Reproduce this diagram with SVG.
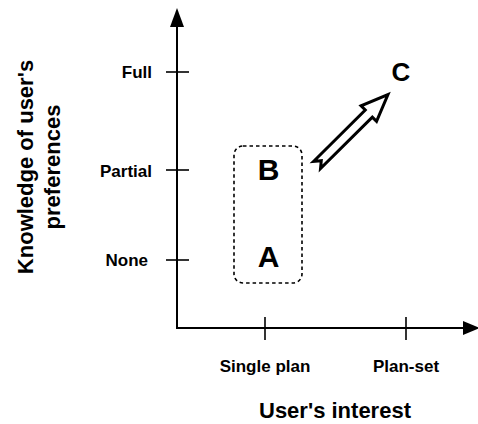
<svg xmlns="http://www.w3.org/2000/svg" width="478" height="424" viewBox="0 0 478 424">
<style>
.lbl{font-family:"Liberation Sans",Arial,sans-serif;font-weight:bold;fill:#000}
.tick{font-size:17px}
.big{font-size:22px}
.node{font-size:30px}
.ax{stroke:#000;stroke-width:2;fill:none}
.tk{stroke:#000;stroke-width:1.6;fill:none}
</style>
<rect width="478" height="424" fill="#fff"/>
<g id="axes">
  <line class="ax" x1="177" y1="328" x2="177" y2="26"/>
  <polygon points="177,8 170,27 184,27" fill="#000"/>
  <line class="ax" x1="176" y1="328" x2="464" y2="328"/>
  <polygon points="480,328 463,321 463,335" fill="#000"/>
  <line class="tk" x1="166" y1="72" x2="189" y2="72"/>
  <line class="tk" x1="166" y1="170" x2="189" y2="170"/>
  <line class="tk" x1="166" y1="260" x2="189" y2="260"/>
  <line class="tk" x1="265" y1="317" x2="265" y2="340"/>
  <line class="tk" x1="406" y1="317" x2="406" y2="340"/>
</g>
<g id="labels">
  <text class="lbl tick" x="152" y="78" text-anchor="end">Full</text>
  <text class="lbl tick" x="152" y="177" text-anchor="end">Partial</text>
  <text class="lbl tick" x="148" y="266" text-anchor="end">None</text>
  <text class="lbl tick" x="265" y="372" text-anchor="middle">Single plan</text>
  <text class="lbl tick" x="406" y="372" text-anchor="middle">Plan-set</text>
  <text class="lbl big" x="335" y="418" text-anchor="middle">User's interest</text>
  <g transform="translate(33,167) rotate(-90)">
    <text class="lbl big" x="0" y="0" text-anchor="middle">Knowledge of user's</text>
    <text class="lbl big" x="0" y="27" text-anchor="middle">preferences</text>
  </g>
</g>
<g id="group-AB">
  <rect x="234" y="146" width="68" height="137" rx="9" ry="9" fill="none" stroke="#000" stroke-width="1.6" stroke-dasharray="3.5,3"/>
</g>
<g id="node-B">
  <text class="lbl node" x="268.5" y="180" text-anchor="middle">B</text>
</g>
<g id="node-A">
  <text class="lbl node" x="268.5" y="267" text-anchor="middle">A</text>
</g>
<g id="node-C">
  <text class="lbl" style="font-size:26px" x="401" y="81" text-anchor="middle">C</text>
</g>
<g id="connectors">
  <polygon transform="translate(317,165) rotate(-44.8)" points="0,-5 73,-5 73,-11 100,0 73,11 73,5 0,5 6,0" fill="#fff" stroke="#000" stroke-width="3" stroke-linejoin="miter"/>
</g>
</svg>
